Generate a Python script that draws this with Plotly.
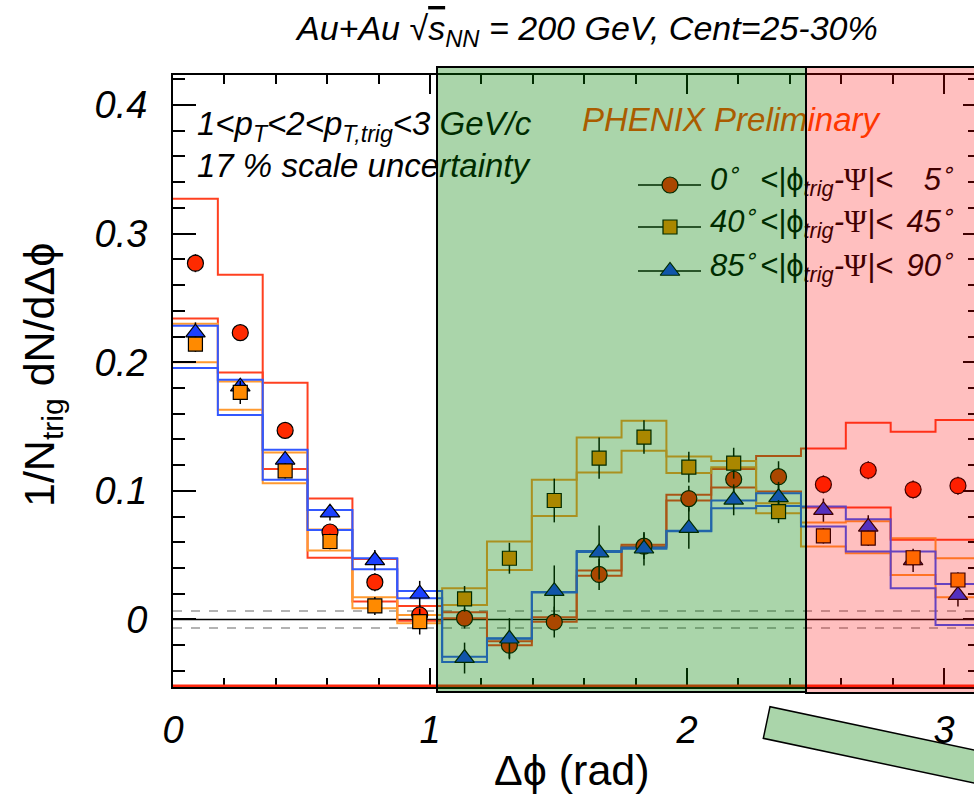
import numpy as np
import plotly.graph_objects as go

# ---------------- binning (18 bins over 0..pi) ----------------
NBINS = 18
BIN_W = np.pi / NBINS
dphi_edges = [i * BIN_W for i in range(NBINS + 1)]
dphi_centers = [(i + 0.5) * BIN_W for i in range(NBINS)]

# ---------------- per-trigger-orientation yields ----------------
# 0 < |phi_trig - Psi| < 5 deg  (circles)
yield_in = [0.277, 0.223, 0.147, 0.068, 0.029, 0.0035, 0.001, -0.020, -0.002,
            0.035, 0.057, 0.094, 0.109, 0.111, 0.105, 0.116, 0.101, 0.104]
err_in = [0.007, 0.006, 0.006, 0.006, 0.007, 0.008, 0.008, 0.010, 0.012,
          0.012, 0.010, 0.010, 0.012, 0.012, 0.007, 0.007, 0.007, 0.007]
sys_in_hi = [0.327, 0.268, 0.184, 0.094, 0.047, 0.0105, 0.0056, -0.017, 0.0017,
             0.038, 0.058, 0.097, 0.117, 0.127, 0.133, 0.153, 0.146, 0.155]
sys_in_lo = [0.234, 0.192, 0.117, 0.048, 0.014, -0.001, 0.001, -0.020, -0.0017,
             0.034, 0.0567, 0.0925, 0.1026, 0.0995, 0.087, 0.087, 0.062, 0.062]

# 40 < |phi_trig - Psi| < 45 deg  (squares)
yield_mid = [0.214, 0.1765, 0.1156, 0.0606, 0.0105, -0.0017, 0.016, 0.0476, 0.0925,
             0.1254, 0.1418, 0.1184, 0.1215, 0.0839, 0.065, 0.0632, 0.048, 0.0307]
err_mid = [0.006, 0.009, 0.006, 0.006, 0.007, 0.010, 0.010, 0.012, 0.017,
           0.016, 0.013, 0.012, 0.012, 0.009, 0.006, 0.006, 0.006, 0.006]
sys_mid_hi = [0.230, 0.185, 0.1298, 0.070, 0.0173, 0.0035, 0.0243, 0.0606, 0.1086,
              0.1415, 0.1545, 0.1267, 0.1233, 0.0904, 0.0753, 0.0764, 0.0632, 0.0476]
sys_mid_lo = [0.1999, 0.163, 0.106, 0.0536, 0.0087, -0.003, 0.0113, 0.0385, 0.0805,
              0.1143, 0.1311, 0.1138, 0.1184, 0.0826, 0.0567, 0.0515, 0.0346, 0.0173]

# 85 < |phi_trig - Psi| < 90 deg  (triangles)
yield_out = [0.223, 0.181, 0.124, 0.083, 0.046, 0.020, -0.030, -0.015, 0.022,
             0.052, 0.055, 0.071, 0.093, 0.095, 0.085, 0.072, 0.046, 0.019]
err_out = [0.008, 0.006, 0.006, 0.006, 0.008, 0.010, 0.012, 0.016, 0.020,
           0.021, 0.013, 0.016, 0.012, 0.012, 0.009, 0.009, 0.009, 0.009]
sys_out_hi = [0.2284, 0.1864, 0.1319, 0.0852, 0.0476, 0.0222, -0.029, -0.0146, 0.0214,
              0.0533, 0.056, 0.0689, 0.0925, 0.0982, 0.0878, 0.078, 0.0528, 0.0276]
sys_out_lo = [0.1955, 0.159, 0.1086, 0.0696, 0.039, 0.0165, -0.033, -0.0150, 0.021,
              0.0525, 0.055, 0.0685, 0.0865, 0.0883, 0.0722, 0.0528, 0.0243, -0.0043]

scale_unc = 0.0066          # dashed band around zero
x_ticks = [0, 1, 2, 3]
y_ticks = [0, 0.1, 0.2, 0.3, 0.4]

# ---------------- styling ----------------
FONT = "Liberation Sans, Arial, Helvetica, sans-serif"
C_IN, C_MID, C_OUT = "#ff2a00", "#ff8a00", "#1a40ff"
L_IN, L_MID, L_OUT = "#ff4020", "#ff9a30", "#3358ff"

# plot frame geometry (px)
W, H = 974, 798
ML, MT, MB = 173, 75, 111
PW, PH = W - ML, H - MT - MB
XR = [0.0, PW / 257.0]
YR = [-0.0525, 0.4233]


def px_x(px):
    return (px - ML) / (PW / (XR[1] - XR[0])) + XR[0]


def px_y(py):
    return YR[1] - (py - MT) / (PH / (YR[1] - YR[0]))


def paper_x(px):
    return (px - ML) / PW


def paper_y(py):
    return (MT + PH - py) / PH


def upright(s, family=None):
    fam = "font-family:{};".format(family) if family else ""
    return '<span style="font-style:normal;{}">{}</span>'.format(fam, s)


fig = go.Figure()

# systematic bands as step outlines
for hi, lo, col in [(sys_in_hi, sys_in_lo, L_IN),
                    (sys_mid_hi, sys_mid_lo, L_MID),
                    (sys_out_hi, sys_out_lo, L_OUT)]:
    for band in (hi, lo):
        fig.add_trace(go.Scatter(
            x=dphi_edges, y=band + [band[-1]], mode="lines", line_shape="hv",
            line=dict(color=col, width=2), hoverinfo="skip", showlegend=False))

# data points
for vals, errs, sym, col, size in [
        (yield_in, err_in, "circle", C_IN, 16),
        (yield_out, err_out, "triangle-up", C_OUT, 17),
        (yield_mid, err_mid, "square", C_MID, 14)]:
    fig.add_trace(go.Scatter(
        x=dphi_centers, y=vals, mode="markers",
        marker=dict(symbol=sym, size=size, color=col,
                    line=dict(color="black", width=1.2)),
        error_y=dict(type="data", array=errs, color="black", thickness=1.5, width=0),
        showlegend=False))

# in-frame text (kept as traces so the shaded boxes tint it)
txt_font = dict(family=FONT, size=33, color="black", style="italic")
leg_font = dict(family=FONT, size=31, color="black", style="italic")
fig.add_trace(go.Scatter(
    x=[px_x(197), px_x(197)], y=[px_y(127), px_y(169)], mode="text",
    text=["1&lt;p<sub>T</sub>&lt;2&lt;p<sub>T,trig</sub>&lt;3 GeV/c",
          "17 % scale uncertainty"],
    textposition="middle right", textfont=txt_font, hoverinfo="skip",
    showlegend=False))
fig.add_trace(go.Scatter(
    x=[px_x(582)], y=[px_y(123)], mode="text", text=["PHENIX Preliminary"],
    textposition="middle right",
    textfont=dict(family=FONT, size=33, color="#ff4a00", style="italic"),
    hoverinfo="skip", showlegend=False))

# legend block
leg_rows = [185, 227, 271]
leg_sym = [("circle", C_IN, 16), ("square", C_MID, 14), ("triangle-up", C_OUT, 17)]
leg_lo = ["0<sup>∘</sup>", "40<sup>∘</sup>", "85<sup>∘</sup>"]
leg_hi = ["5<sup>∘</sup>", "45<sup>∘</sup>", "90<sup>∘</sup>"]
mid_txt = ("&lt;|" + upright("ϕ") + "<sub>trig</sub>-"
           + upright("Ψ", "Liberation Serif") + "|&lt;")
for row, (sym, col, size), lo, hi in zip(leg_rows, leg_sym, leg_lo, leg_hi):
    yv = px_y(row)
    fig.add_trace(go.Scatter(
        x=[px_x(638), px_x(701)], y=[yv, yv], mode="lines",
        line=dict(color="black", width=1.5), hoverinfo="skip", showlegend=False))
    fig.add_trace(go.Scatter(
        x=[px_x(670)], y=[yv], mode="markers",
        marker=dict(symbol=sym, size=size, color=col, line=dict(color="black", width=1.2)),
        hoverinfo="skip", showlegend=False))
    ty = px_y(row - 3)
    fig.add_trace(go.Scatter(
        x=[px_x(710), px_x(760)], y=[ty, ty], mode="text", text=[lo, mid_txt],
        textposition="middle right", textfont=leg_font, hoverinfo="skip",
        showlegend=False))
    fig.add_trace(go.Scatter(
        x=[px_x(955)], y=[ty], mode="text", text=[hi],
        textposition="middle left", textfont=leg_font, hoverinfo="skip",
        showlegend=False))

# helper trace for the right-hand tick axis
fig.add_trace(go.Scatter(x=[None], y=[None], yaxis="y2", showlegend=False,
                         hoverinfo="skip"))

# reference lines
fig.add_hline(y=0, line=dict(color="black", width=1.5), layer="below")
for s in (scale_unc, -scale_unc):
    fig.add_hline(y=s, line=dict(color="#9a9a9a", width=1.5, dash="dash"), layer="below")
fig.add_hline(y=YR[0] + 0.0009, line=dict(color="#ff2a10", width=2.5), layer="above")

# shaded near/away regions drawn over the data
g_x0, g_x1 = px_x(437), px_x(806)
fig.add_shape(type="rect", xref="x", yref="paper", x0=g_x0, x1=g_x1,
              y0=paper_y(692), y1=paper_y(67), layer="above",
              fillcolor="rgba(0,128,0,0.333)", line=dict(color="black", width=2))
fig.add_shape(type="rect", xref="x", yref="paper", x0=g_x1, x1=XR[1] + 0.3,
              y0=paper_y(693), y1=paper_y(67), layer="above",
              fillcolor="rgba(255,0,0,0.25)", line=dict(color="black", width=2))

# tilted bar below the axis
ux, uy = 204.0 / 208.5, 43.3 / 208.5
p1 = (770.0, 706.7)
p2 = (763.3, 738.3)
L = 420.0
p3 = (p2[0] + L * ux, p2[1] + L * uy)
p4 = (p1[0] + L * ux, p1[1] + L * uy)
path = "M {} {} L {} {} L {} {} L {} {} Z".format(
    *[v for p in (p1, p2, p3, p4) for v in (paper_x(p[0]), paper_y(p[1]))])
fig.add_shape(type="path", xref="paper", yref="paper", path=path,
              fillcolor="rgba(0,128,0,0.333)", line=dict(color="black", width=1.5),
              layer="above")

# titles
fig.add_annotation(xref="paper", yref="paper", x=paper_x(586), y=paper_y(30),
                   text="<i>Au+Au √<span style=\"text-decoration:overline\">s</span>"
                        "<sub>NN</sub> = 200 GeV, Cent=25-30%</i>",
                   showarrow=False, xanchor="center", yanchor="middle",
                   font=dict(family=FONT, size=34, color="black"))
fig.add_annotation(xref="paper", yref="paper", x=paper_x(572), y=paper_y(770),
                   text="Δϕ (rad)", showarrow=False, xanchor="center", yanchor="middle",
                   font=dict(family=FONT, size=43, color="black"))
fig.add_annotation(xref="paper", yref="paper", x=paper_x(42), y=paper_y(375),
                   text="1/N<sub>trig</sub> dN/dΔϕ", textangle=-90, showarrow=False,
                   xanchor="center", yanchor="middle",
                   font=dict(family=FONT, size=43, color="black"))

tick_font = dict(family=FONT, size=38, color="black", style="italic")
fig.update_layout(
    width=W, height=H,
    margin=dict(l=ML, r=0, t=MT, b=MB, pad=0),
    paper_bgcolor="white", plot_bgcolor="white",
    showlegend=False,
    xaxis=dict(range=XR, showgrid=False, zeroline=False, showline=True,
               linecolor="black", linewidth=2, mirror="ticks",
               ticks="inside", ticklen=19, tickwidth=1.5, tickcolor="black",
               tickmode="array", tickvals=x_ticks, ticktext=[str(v) for v in x_ticks],
               minor=dict(dtick=0.2, tick0=0, ticks="inside", ticklen=9,
                          tickwidth=1.5, tickcolor="black"),
               tickfont=tick_font, ticklabelstandoff=8),
    yaxis=dict(range=YR, showgrid=False, zeroline=False, showline=True,
               linecolor="black", linewidth=2, mirror=False,
               ticks="inside", ticklen=23, tickwidth=1.5, tickcolor="black",
               tickmode="array", tickvals=y_ticks, ticktext=["0", "0.1", "0.2", "0.3", "0.4"],
               minor=dict(dtick=0.02, tick0=0, ticks="inside", ticklen=12,
                          tickwidth=1.5, tickcolor="black"),
               tickfont=tick_font, ticklabelstandoff=16),
    yaxis2=dict(range=YR, overlaying="y", side="right", showgrid=False,
                zeroline=False, showline=False, showticklabels=False,
                ticks="inside", ticklen=11, tickwidth=1.5, tickcolor="black",
                tickmode="array", tickvals=y_ticks,
                minor=dict(dtick=0.02, tick0=0, ticks="inside", ticklen=6,
                           tickwidth=1.5, tickcolor="black")),
)

fig.write_html("out.html")
